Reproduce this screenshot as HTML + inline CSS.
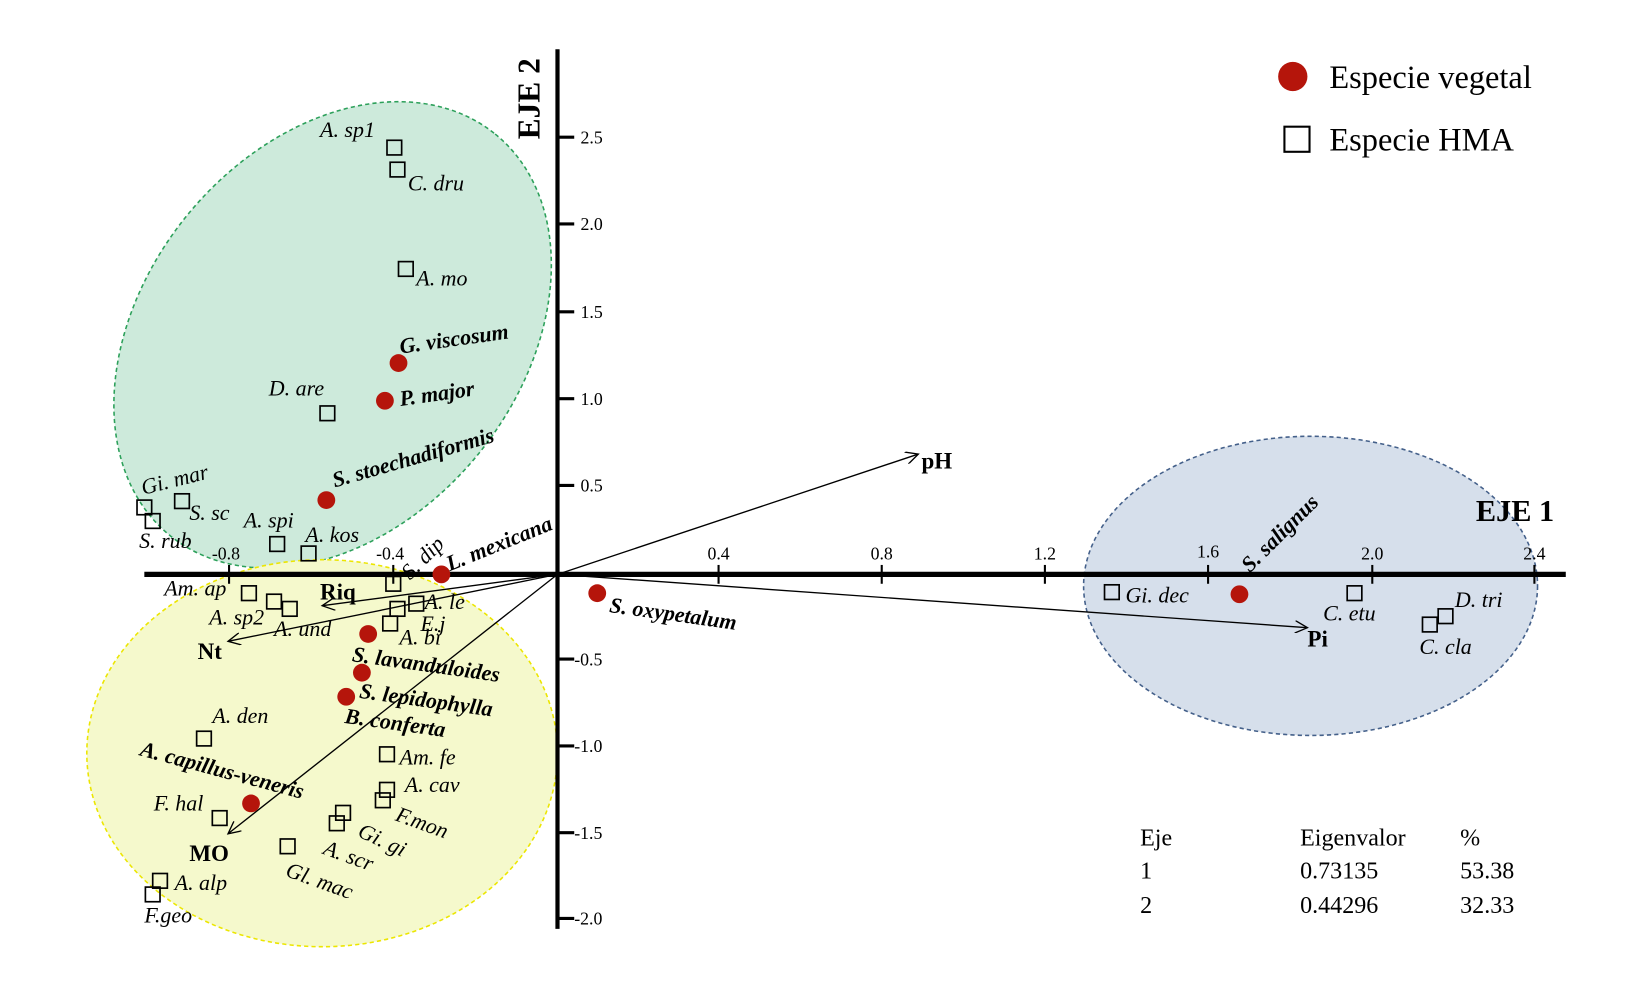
<!DOCTYPE html>
<html><head><meta charset="utf-8"><style>
html,body{margin:0;padding:0;background:#fff;}
svg{display:block;}
text{font-family:"Liberation Serif",serif;}
.i{font-style:italic;font-size:21px;}
.b{font-weight:bold;font-style:italic;font-size:21px;}
.v{font-weight:bold;font-size:22px;}
.t{font-size:17px;}
.tb{font-size:23px;}
</style></head><body>
<svg width="1639" height="996" viewBox="0 0 1567 952" xmlns="http://www.w3.org/2000/svg">
<defs><marker id="ar" markerWidth="14" markerHeight="12" refX="12" refY="6" orient="auto" markerUnits="userSpaceOnUse"><path d="M0,0 L12,6 L0,12" fill="none" stroke="#000" stroke-width="1.3"/></marker></defs>
<ellipse cx="318" cy="320" rx="247" ry="180" transform="rotate(-51 318 320)" fill="#cdeadb" stroke="#2ca05a" stroke-width="1.5" stroke-dasharray="4,3"/>
<ellipse cx="308" cy="720" rx="225" ry="185" fill="#f5f9cc" stroke="#ece600" stroke-width="1.5" stroke-dasharray="4,3"/>
<ellipse cx="1253" cy="560" rx="217" ry="143" fill="#d6dfeb" stroke="#44608a" stroke-width="1.5" stroke-dasharray="4,3"/>
<line x1="138" y1="549" x2="1497" y2="549" stroke="#000" stroke-width="5"/>
<line x1="533" y1="47" x2="533" y2="888" stroke="#000" stroke-width="4"/>
<g stroke="#000" stroke-width="2">
<line x1="219" y1="540" x2="219" y2="558"/><line x1="376" y1="540" x2="376" y2="558"/><line x1="687" y1="540" x2="687" y2="558"/><line x1="843" y1="540" x2="843" y2="558"/><line x1="999" y1="540" x2="999" y2="558"/><line x1="1155" y1="540" x2="1155" y2="558"/><line x1="1312" y1="540" x2="1312" y2="558"/><line x1="1467" y1="540" x2="1467" y2="558"/>
</g>
<g stroke="#000" stroke-width="3">
<line x1="533" y1="131" x2="549" y2="131"/><line x1="533" y1="214" x2="549" y2="214"/><line x1="533" y1="298" x2="549" y2="298"/><line x1="533" y1="381" x2="549" y2="381"/><line x1="533" y1="464" x2="549" y2="464"/><line x1="533" y1="630" x2="549" y2="630"/><line x1="533" y1="713" x2="549" y2="713"/><line x1="533" y1="796" x2="549" y2="796"/><line x1="533" y1="878" x2="549" y2="878"/>
</g>
<g class="t" text-anchor="middle">
<text x="216" y="535">-0.8</text><text x="373" y="535">-0.4</text><text x="687" y="535">0.4</text><text x="843" y="535">0.8</text><text x="999" y="535">1.2</text><text x="1155" y="533">1.6</text><text x="1312" y="535">2.0</text><text x="1467" y="535">2.4</text>
</g>
<g class="t">
<text x="555" y="137">2.5</text><text x="555" y="220">2.0</text><text x="555" y="304">1.5</text><text x="555" y="387">1.0</text><text x="555" y="470">0.5</text><text x="549" y="636">-0.5</text><text x="549" y="719">-1.0</text><text x="549" y="802">-1.5</text><text x="549" y="884">-2.0</text>
</g>
<text transform="translate(516 133) rotate(-90)" font-weight="bold" font-size="30">EJE 2</text>
<text x="1411" y="498" font-weight="bold" font-size="29">EJE 1</text>
<g stroke="#000" stroke-width="1.3" fill="none" marker-end="url(#ar)">
<line x1="533" y1="549" x2="878" y2="434"/><line x1="533" y1="549" x2="1250" y2="600"/><line x1="533" y1="549" x2="308" y2="579"/><line x1="533" y1="549" x2="218" y2="613"/><line x1="533" y1="549" x2="218" y2="797"/>
</g>
<g class="v"><text x="881" y="448">pH</text><text x="1250" y="618">Pi</text><text x="306" y="573">Riq</text><text x="189" y="630">Nt</text><text x="181" y="823">MO</text></g>
<g fill="none" stroke="#000" stroke-width="1.6">
<rect x="370" y="134" width="14" height="14"/><rect x="373" y="155" width="14" height="14"/><rect x="381" y="250" width="14" height="14"/><rect x="306" y="388" width="14" height="14"/>
<rect x="131" y="478" width="14" height="14"/><rect x="139" y="491" width="14" height="14"/><rect x="167" y="472" width="14" height="14"/><rect x="258" y="513" width="14" height="14"/><rect x="288" y="522" width="14" height="14"/>
<rect x="369" y="551" width="14" height="14"/><rect x="231" y="560" width="14" height="14"/><rect x="255" y="568" width="14" height="14"/><rect x="270" y="575" width="14" height="14"/><rect x="391" y="570" width="14" height="14"/><rect x="373" y="575" width="14" height="14"/><rect x="366" y="589" width="14" height="14"/>
<rect x="188" y="699" width="14" height="14"/><rect x="363" y="714" width="14" height="14"/><rect x="363" y="748" width="14" height="14"/><rect x="359" y="758" width="14" height="14"/><rect x="321" y="770" width="14" height="14"/><rect x="315" y="780" width="14" height="14"/><rect x="268" y="802" width="14" height="14"/><rect x="203" y="775" width="14" height="14"/><rect x="146" y="835" width="14" height="14"/><rect x="139" y="848" width="14" height="14"/>
<rect x="1056" y="559" width="14" height="14"/><rect x="1288" y="560" width="14" height="14"/><rect x="1375" y="582" width="14" height="14"/><rect x="1360" y="590" width="14" height="14"/>
</g>
<g fill="#b5150b">
<circle cx="381" cy="347" r="8.5"/><circle cx="368" cy="383" r="8.5"/><circle cx="312" cy="478" r="8.5"/><circle cx="422" cy="549" r="8.5"/><circle cx="571" cy="567" r="8.5"/><circle cx="352" cy="606" r="8.5"/><circle cx="346" cy="643" r="8.5"/><circle cx="331" cy="666" r="8.5"/><circle cx="240" cy="768" r="8.5"/><circle cx="1185" cy="568" r="8.5"/>
</g>
<g class="b">
<text transform="translate(383 338) rotate(-8)">G. viscosum</text>
<text transform="translate(383 388) rotate(-8)">P. major</text>
<text transform="translate(320 466) rotate(-16)">S. stoechadiformis</text>
<text transform="translate(430 546) rotate(-22)">L. mexicana</text>
<text transform="translate(582 585) rotate(8)">S. oxypetalum</text>
<text transform="translate(336 632) rotate(8)">S. lavanduloides</text>
<text transform="translate(343 667) rotate(8)">S. lepidophylla</text>
<text transform="translate(329 691) rotate(8)">B. conferta</text>
<text transform="translate(133 722) rotate(15)">A. capillus-veneris</text>
<text transform="translate(1195 548) rotate(-45)">S. salignus</text>
</g>
<g class="i">
<text x="306" y="131">A. sp1</text><text x="390" y="182">C. dru</text><text x="398" y="273">A. mo</text><text x="257" y="378">D. are</text>
<text transform="translate(137 473) rotate(-14)">Gi. mar</text><text x="181" y="497">S. sc</text><text x="133" y="524">S. rub</text><text x="233" y="504">A. spi</text><text x="292" y="518">A. kos</text>
<text transform="translate(392 555) rotate(-45)">S. dip</text><text x="157" y="569">Am. ap</text><text x="200" y="597">A. sp2</text><text x="262" y="608">A. und</text><text x="406" y="582">A. le</text><text x="402" y="603">E.j</text><text x="382" y="616">A. bi</text>
<text x="203" y="691">A. den</text><text x="382" y="731">Am. fe</text><text x="387" y="757">A. cav</text><text transform="translate(377 784) rotate(20)">F.mon</text><text transform="translate(341 799) rotate(25)">Gi. gi</text><text transform="translate(308 816) rotate(20)">A. scr</text><text transform="translate(272 837) rotate(20)">Gl. mac</text>
<text x="147" y="775">F. hal</text><text x="167" y="851">A. alp</text><text x="138" y="882">F.geo</text>
<text x="1076" y="576">Gi. dec</text><text x="1265" y="593">C. etu</text><text x="1391" y="580">D. tri</text><text x="1357" y="625">C. cla</text>
</g>
<circle cx="1236" cy="73" r="14" fill="#b5150b"/>
<text x="1271" y="84" font-size="31">Especie vegetal</text>
<rect x="1228" y="121" width="24" height="24" fill="none" stroke="#000" stroke-width="2"/>
<text x="1271" y="144" font-size="31">Especie HMA</text>
<g class="tb">
<text x="1090" y="808">Eje</text><text x="1243" y="808">Eigenvalor</text><text x="1396" y="808">%</text>
<text x="1090" y="840">1</text><text x="1243" y="840">0.73135</text><text x="1396" y="840">53.38</text>
<text x="1090" y="873">2</text><text x="1243" y="873">0.44296</text><text x="1396" y="873">32.33</text>
</g>
</svg>
</body></html>
